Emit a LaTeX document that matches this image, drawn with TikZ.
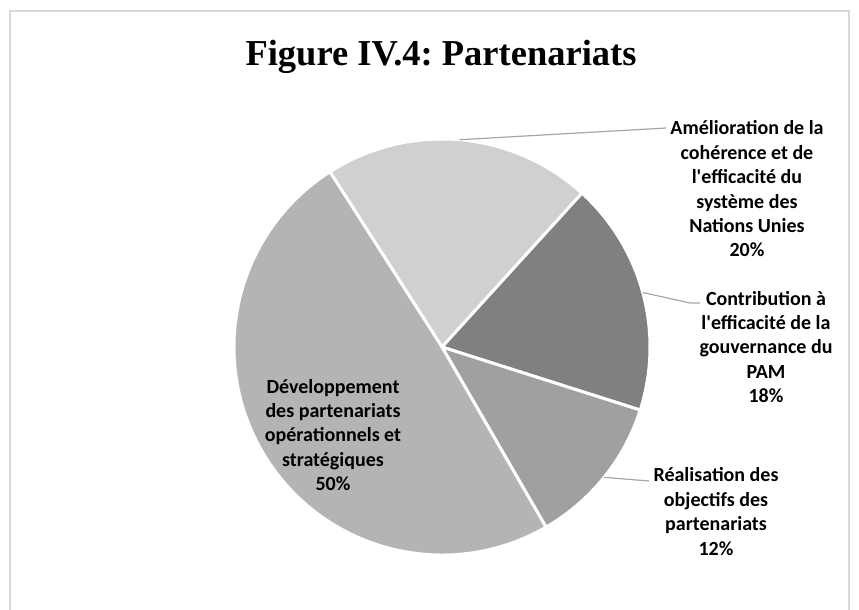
\documentclass[tikz,border=0pt]{standalone}
\usepackage{fontspec}
\setmainfont{Liberation Serif}
\newfontfamily\labfont{Carlito}
\definecolor{slLight}{HTML}{D0D0D0}
\definecolor{slDark}{HTML}{808080}
\definecolor{slMed}{HTML}{A0A0A0}
\definecolor{slBig}{HTML}{B4B4B4}
\definecolor{leader}{HTML}{A6A6A6}
\definecolor{frame}{HTML}{D9D9D9}
\tikzset{
  slice/.style={draw=white, line width=3pt, line join=round},
  lab/.style={align=center, inner sep=0pt, font=\labfont\bfseries\fontsize{20}{24.4}\selectfont},
  leaderline/.style={draw=leader, line width=1.2pt},
}
\frenchspacing
\begin{document}
\begin{tikzpicture}[x=1pt,y=-1pt]
\useasboundingbox (0,0) rectangle (859,610);
\draw[frame, line width=1.2pt] (10,625) -- (10,11) -- (849,11) -- (849,625);
\node[anchor=base, font=\bfseries\fontsize{36.5}{42}\selectfont] (title) at (441,66) {Figure IV.4: Partenariats};
\coordinate (c) at (442,347);
\begin{scope}[shift={(c)}, y=1pt]
  \def\R{208}
  \filldraw[slice, fill=slLight] (0,0) -- (122.6:\R) arc[start angle=122.6, end angle=47.7, radius=\R] -- cycle;
  \filldraw[slice, fill=slDark] (0,0) -- (47.7:\R) arc[start angle=47.7, end angle=-17.65, radius=\R] -- cycle;
  \filldraw[slice, fill=slMed] (0,0) -- (-17.65:\R) arc[start angle=-17.65, end angle=-60, radius=\R] -- cycle;
  \filldraw[slice, fill=slBig] (0,0) -- (-60:\R) arc[start angle=-60, end angle=-237.4, radius=\R] -- cycle;
  \coordinate (pLight) at (85.2:\R);
  \coordinate (pDark) at (15.2:\R);
  \coordinate (pMed) at (-38.8:\R);
\end{scope}
\node[lab] (lLight) at (747,189) {Amélioration de la\\cohérence et de\\l'efficacité du\\système des\\Nations Unies\\20\%};
\node[lab] (lDark) at (766,347) {Contribution à\\l'efficacité de la\\gouvernance du\\PAM\\18\%};
\node[lab] (lMed) at (716,511.5) {Réalisation des\\objectifs des\\partenariats\\12\%};
\node[lab] (lBig) at (333,435) {Développement\\des partenariats\\opérationnels et\\stratégiques\\50\%};
\coordinate (eLight) at (666,128);
\coordinate (kDark) at (690,303);
\coordinate (eDark) at (700,303);
\coordinate (eMed) at (649,481);
\draw[leaderline] (pLight) -- (eLight);
\draw[leaderline] (pDark) -- (kDark) -- (eDark);
\draw[leaderline] (pMed) -- (eMed);
\end{tikzpicture}
\end{document}
